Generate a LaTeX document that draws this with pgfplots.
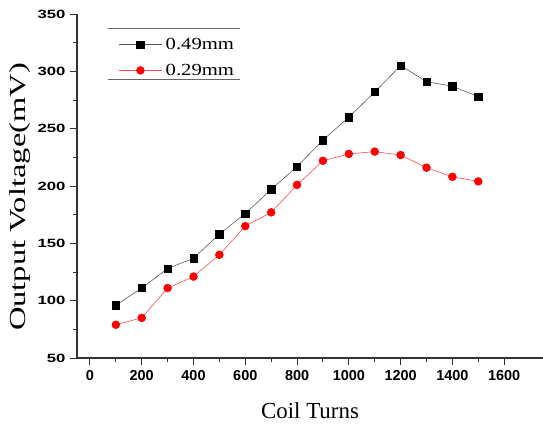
\documentclass[border=0pt]{standalone}
\usepackage{fontspec}
\setmainfont{Liberation Serif}
\newfontfamily\ticksans{Liberation Sans}
\usepackage{pgfplots}
\pgfplotsset{compat=1.18}

\begin{document}
\begin{tikzpicture}
\path[use as bounding box] (-77bp,-67bp) rectangle (466bp,358bp);
\begin{axis}[
    scale only axis,
    width=466bp, height=344bp,
    xmin=-50, xmax=1750,
    ymin=50, ymax=350,
    axis lines=left,
    axis line style={-, line width=1.1pt, black!80},
    xtick={0,200,...,1600},
    ytick={50,100,...,350},
    minor x tick num=1,
    minor y tick num=1,
    xtick pos=bottom, ytick pos=left,
    tick align=outside,
    major tick length=7bp,
    minor tick length=4bp,
    tick style={line width=0.9pt, black!80},
    /pgf/number format/assume math mode=true,
    /pgf/number format/1000 sep={},
    xticklabel style={font=\ticksans\bfseries\fontsize{14.5}{15}\selectfont, yshift=-2bp},
    yticklabel style={font=\ticksans\bfseries\fontsize{12}{13}\selectfont, xshift=-1bp},
    yticklabel={\scalebox{1.4}[1]{\pgfmathprintnumber{\tick}}},
    xlabel={Coil Turns},
    ylabel={\scalebox{1.42}[1]{Output Voltage(mV)}},
    label style={font=\fontsize{23}{24}\selectfont},
    xlabel style={yshift=-15bp},
    ylabel style={at={(ticklabel cs:0.468)}},
    legend style={at={(rel axis cs:0.09,0.93)}, anchor=north west,
        draw=none, fill=none, font=\fontsize{17}{18}\selectfont,
        row sep=13bp, inner sep=0pt, nodes={inner xsep=3bp, inner ysep=0bp}},
    legend cell align=left,
    legend image code/.code={
        \draw[mark repeat=2, mark phase=2]
        plot coordinates {(0bp,0bp) (21bp,0bp) (43bp,0bp)};},
]
\addplot[black!65, line width=0.6pt, mark=square*, mark size=3.7bp,
    mark options={solid, fill=black, draw=black}] coordinates {
    (100,96) (200,111) (300,128) (400,137) (500,158) (600,176) (700,197)
    (800,217) (900,240) (1000,260) (1100,282) (1200,305) (1300,291)
    (1400,287) (1500,278)
};
\addlegendentry{\scalebox{1.22}[1]{0.49mm}}
\addplot[red!70, line width=0.6pt, mark=*, mark size=3.9bp,
    mark options={solid, fill=red, draw=red}] coordinates {
    (100,79) (200,85) (300,111) (400,121) (500,140) (600,165) (700,177)
    (800,201) (900,222) (1000,228) (1100,230) (1200,227) (1300,216)
    (1400,208) (1500,204)
};
\addlegendentry{\scalebox{1.22}[1]{0.29mm}}
\draw[black!60, line width=0.8pt] (rel axis cs:0.0665,0.959) -- (rel axis cs:0.35,0.959);
\draw[black!60, line width=0.8pt] (rel axis cs:0.0665,0.811) -- (rel axis cs:0.35,0.811);
\end{axis}
\end{tikzpicture}
\end{document}
